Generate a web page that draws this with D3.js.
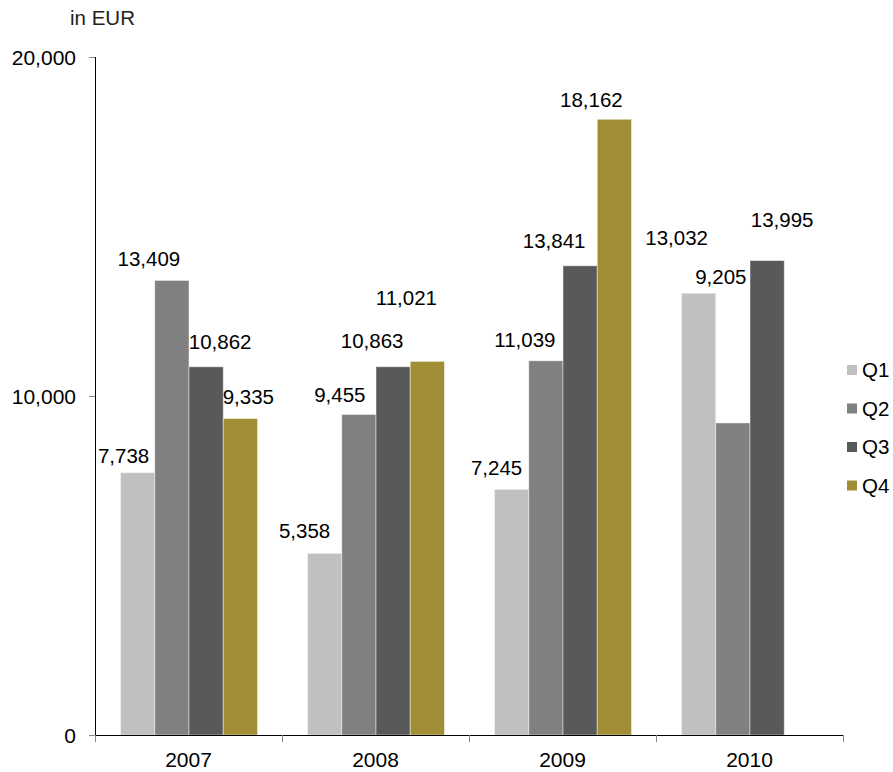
<!DOCTYPE html>
<html>
<head>
<meta charset="utf-8">
<script src="https://cdn.jsdelivr.net/npm/d3@7"></script>
<style>
  body { margin: 0; background: #fff; }
  svg text { font-family: "Liberation Sans", Arial, sans-serif; fill: #000; }
</style>
</head>
<body>
<svg id="chart" width="893" height="772"></svg>
<script>
// chart data
var years = ['2007', '2008', '2009', '2010'];
var quarters = ['Q1', 'Q2', 'Q3', 'Q4'];
var q1 = [7738, 5358, 7245, 13032];
var q2 = [13409, 9455, 11039, 9205];
var q3 = [10862, 10863, 13841, 13995];
var q4 = [9335, 11021, 18162, null];
var yTicks = [0, 10000, 20000];

// label nudges (dx, dy from bar top centre), same order as the series
var labelNudge = [
  [[-14, -10], [-20, -15], [-15, -14], [-22, -48]],
  [[-23, -14], [-19, -12], [-21, -14], [-12, -139]],
  [[14, -18], [-21, -19], [-26, -18], [15, -34]],
  [[8, -15], [-21, -56], [-23, -12], [0, 0]]
];

var colors = ['#c0c0c0', '#808080', '#595959', '#a08d35'];
var series = [q1, q2, q3, q4];

var svg = d3.select('#chart');
var plot = { left: 95, right: 843, top: 57, bottom: 735 };

var x0 = d3.scaleBand().domain(years).range([plot.left, plot.right]);
var x1 = d3.scaleBand().domain(quarters).range([25.5, 162.5]);
var y = d3.scaleLinear().domain([0, 20000]).range([plot.bottom, plot.top]);
var fmt = d3.format(',');

// bars
quarters.forEach(function(q, qi) {
  var g = svg.append('g');
  var rows = years.map(function(yr, i) { return { year: yr, value: series[qi][i], i: i }; })
    .filter(function(d) { return d.value != null; });
  g.selectAll('rect').data(rows).enter().append('rect')
    .attr('x', function(d) { return x0(d.year) + x1(q); })
    .attr('y', function(d) { return y(d.value); })
    .attr('width', x1.bandwidth())
    .attr('height', function(d) { return plot.bottom - y(d.value); })
    .attr('fill', colors[qi])
    .attr('stroke', 'rgba(255,255,255,0.45)')
    .attr('stroke-width', 1);
  g.selectAll('text').data(rows).enter().append('text')
    .attr('x', function(d) { return x0(d.year) + x1(q) + x1.bandwidth() / 2 + labelNudge[qi][d.i][0]; })
    .attr('y', function(d) { return y(d.value) + labelNudge[qi][d.i][1]; })
    .attr('text-anchor', 'middle')
    .style('font-size', '20.5px')
    .text(function(d) { return fmt(d.value); });
});

// y axis
var yAxis = svg.append('g').attr('transform', 'translate(' + plot.left + ',0)')
  .call(d3.axisLeft(y).tickValues(yTicks).tickSize(6).tickPadding(13).tickFormat(fmt));
yAxis.select('.domain').attr('stroke', '#000').attr('d', 'M0.5,' + plot.top + 'V' + plot.bottom);
yAxis.selectAll('.tick line').attr('stroke', '#888');
yAxis.selectAll('.tick text').style('font-size', '21px').attr('dy', '0.35em');

// x axis
var xAxis = svg.append('g').attr('transform', 'translate(0,' + plot.bottom + ')')
  .call(d3.axisBottom(x0).tickSize(0).tickPadding(17));
xAxis.select('.domain').attr('stroke', '#000').attr('d', 'M' + plot.left + ',0.5H' + plot.right);
xAxis.selectAll('.tick text').style('font-size', '21px').attr('dy', '0.71em');
svg.append('g').selectAll('line').data(years.concat(['end'])).enter().append('line')
  .attr('x1', function(d, i) { return plot.left + i * x0.bandwidth() + 0.5; })
  .attr('x2', function(d, i) { return plot.left + i * x0.bandwidth() + 0.5; })
  .attr('y1', plot.bottom).attr('y2', plot.bottom + 7)
  .attr('stroke', '#888');

// unit label
svg.append('text').attr('x', 70).attr('y', 25).style('font-size', '20.5px').style('fill', '#222').text('in EUR');

// legend
var legend = svg.append('g').selectAll('g').data(quarters).enter().append('g')
  .attr('transform', function(d, i) { return 'translate(847,' + (370 + i * 38.5) + ')'; });
legend.append('rect').attr('x', 0).attr('y', -5).attr('width', 10).attr('height', 10)
  .attr('fill', function(d, i) { return colors[i]; });
legend.append('text').attr('x', 15).attr('y', 0).attr('dy', '0.35em')
  .style('font-size', '20.5px').text(function(d) { return d; });
</script>
</body>
</html>
